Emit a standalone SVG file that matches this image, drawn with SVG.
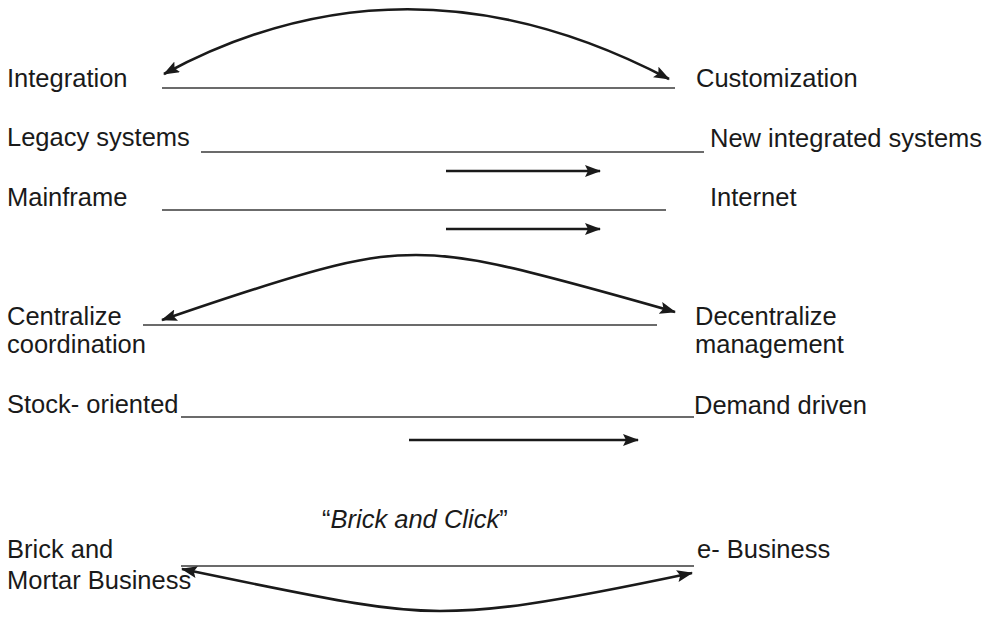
<svg xmlns="http://www.w3.org/2000/svg" width="984" height="617" viewBox="0 0 984 617">
  <style>
    text { font-family: "Liberation Sans", Arial, Helvetica, sans-serif; font-size: 25.5px; fill: #1a1a1a; }
    .scale { stroke: #3a3a3a; stroke-width: 1.6; fill: none; }
    .arrow { stroke: #1a1a1a; stroke-width: 2.6; fill: none; }
    .one { marker-end: url(#head); }
    .both { marker-start: url(#head-start); marker-end: url(#head); }
  </style>
  <defs>
    <marker id="head" viewBox="0 0 16 12" refX="15" refY="6" markerWidth="16" markerHeight="12" markerUnits="userSpaceOnUse" orient="auto">
      <path d="M0,0 L16,6 L0,12 L3,6 Z" fill="#1a1a1a"/>
    </marker>
    <marker id="head-start" viewBox="0 0 16 12" refX="15" refY="6" markerWidth="16" markerHeight="12" markerUnits="userSpaceOnUse" orient="auto-start-reverse">
      <path d="M0,0 L16,6 L0,12 L3,6 Z" fill="#1a1a1a"/>
    </marker>
  </defs>

  <!-- continuum rules and the arrows that move along them -->
  <g id="connectors">
    <line class="scale" x1="162" y1="88" x2="675" y2="88"/>
    <line class="scale" x1="201" y1="152" x2="704" y2="152"/>
    <line class="scale" x1="162" y1="210" x2="666" y2="210"/>
    <line class="scale" x1="143" y1="325" x2="657" y2="325"/>
    <line class="scale" x1="181" y1="417" x2="694" y2="417"/>
    <line class="scale" x1="181" y1="566" x2="694" y2="566"/>

    <path class="arrow both" d="M164,74 Q408,-58 669,79"/>
    <line class="arrow one" x1="446" y1="171" x2="600" y2="171"/>
    <line class="arrow one" x1="446" y1="229" x2="600" y2="229"/>
    <path class="arrow both" d="M162,320 C330,262 370,255 416,255 C462,255 500,262 675,312"/>
    <line class="arrow one" x1="409" y1="440" x2="638" y2="440"/>
    <path class="arrow both" d="M182,569 C350,604 390,611 440,611 C490,611 540,605 692,573"/>
  </g>

  <g id="integration"><text x="7" y="87">Integration</text></g>
  <g id="customization"><text x="696" y="87">Customization</text></g>
  <g id="legacy-systems"><text x="7" y="146">Legacy systems</text></g>
  <g id="new-integrated-systems"><text x="710" y="147">New integrated systems</text></g>
  <g id="mainframe"><text x="7" y="206">Mainframe</text></g>
  <g id="internet"><text x="710" y="206">Internet</text></g>
  <g id="centralize-coordination">
    <text x="7" y="325">Centralize</text>
    <text x="7" y="353">coordination</text>
  </g>
  <g id="decentralize-management">
    <text x="695" y="325">Decentralize</text>
    <text x="695" y="353">management</text>
  </g>
  <g id="stock-oriented"><text x="7" y="413">Stock- oriented</text></g>
  <g id="demand-driven"><text x="694" y="414">Demand driven</text></g>
  <g id="brick-and-click"><text x="322" y="528">“<tspan font-style="italic">Brick and Click</tspan>”</text></g>
  <g id="brick-and-mortar">
    <text x="7" y="558">Brick and</text>
    <text x="7" y="589">Mortar Business</text>
  </g>
  <g id="e-business"><text x="697" y="558">e- Business</text></g>
</svg>
